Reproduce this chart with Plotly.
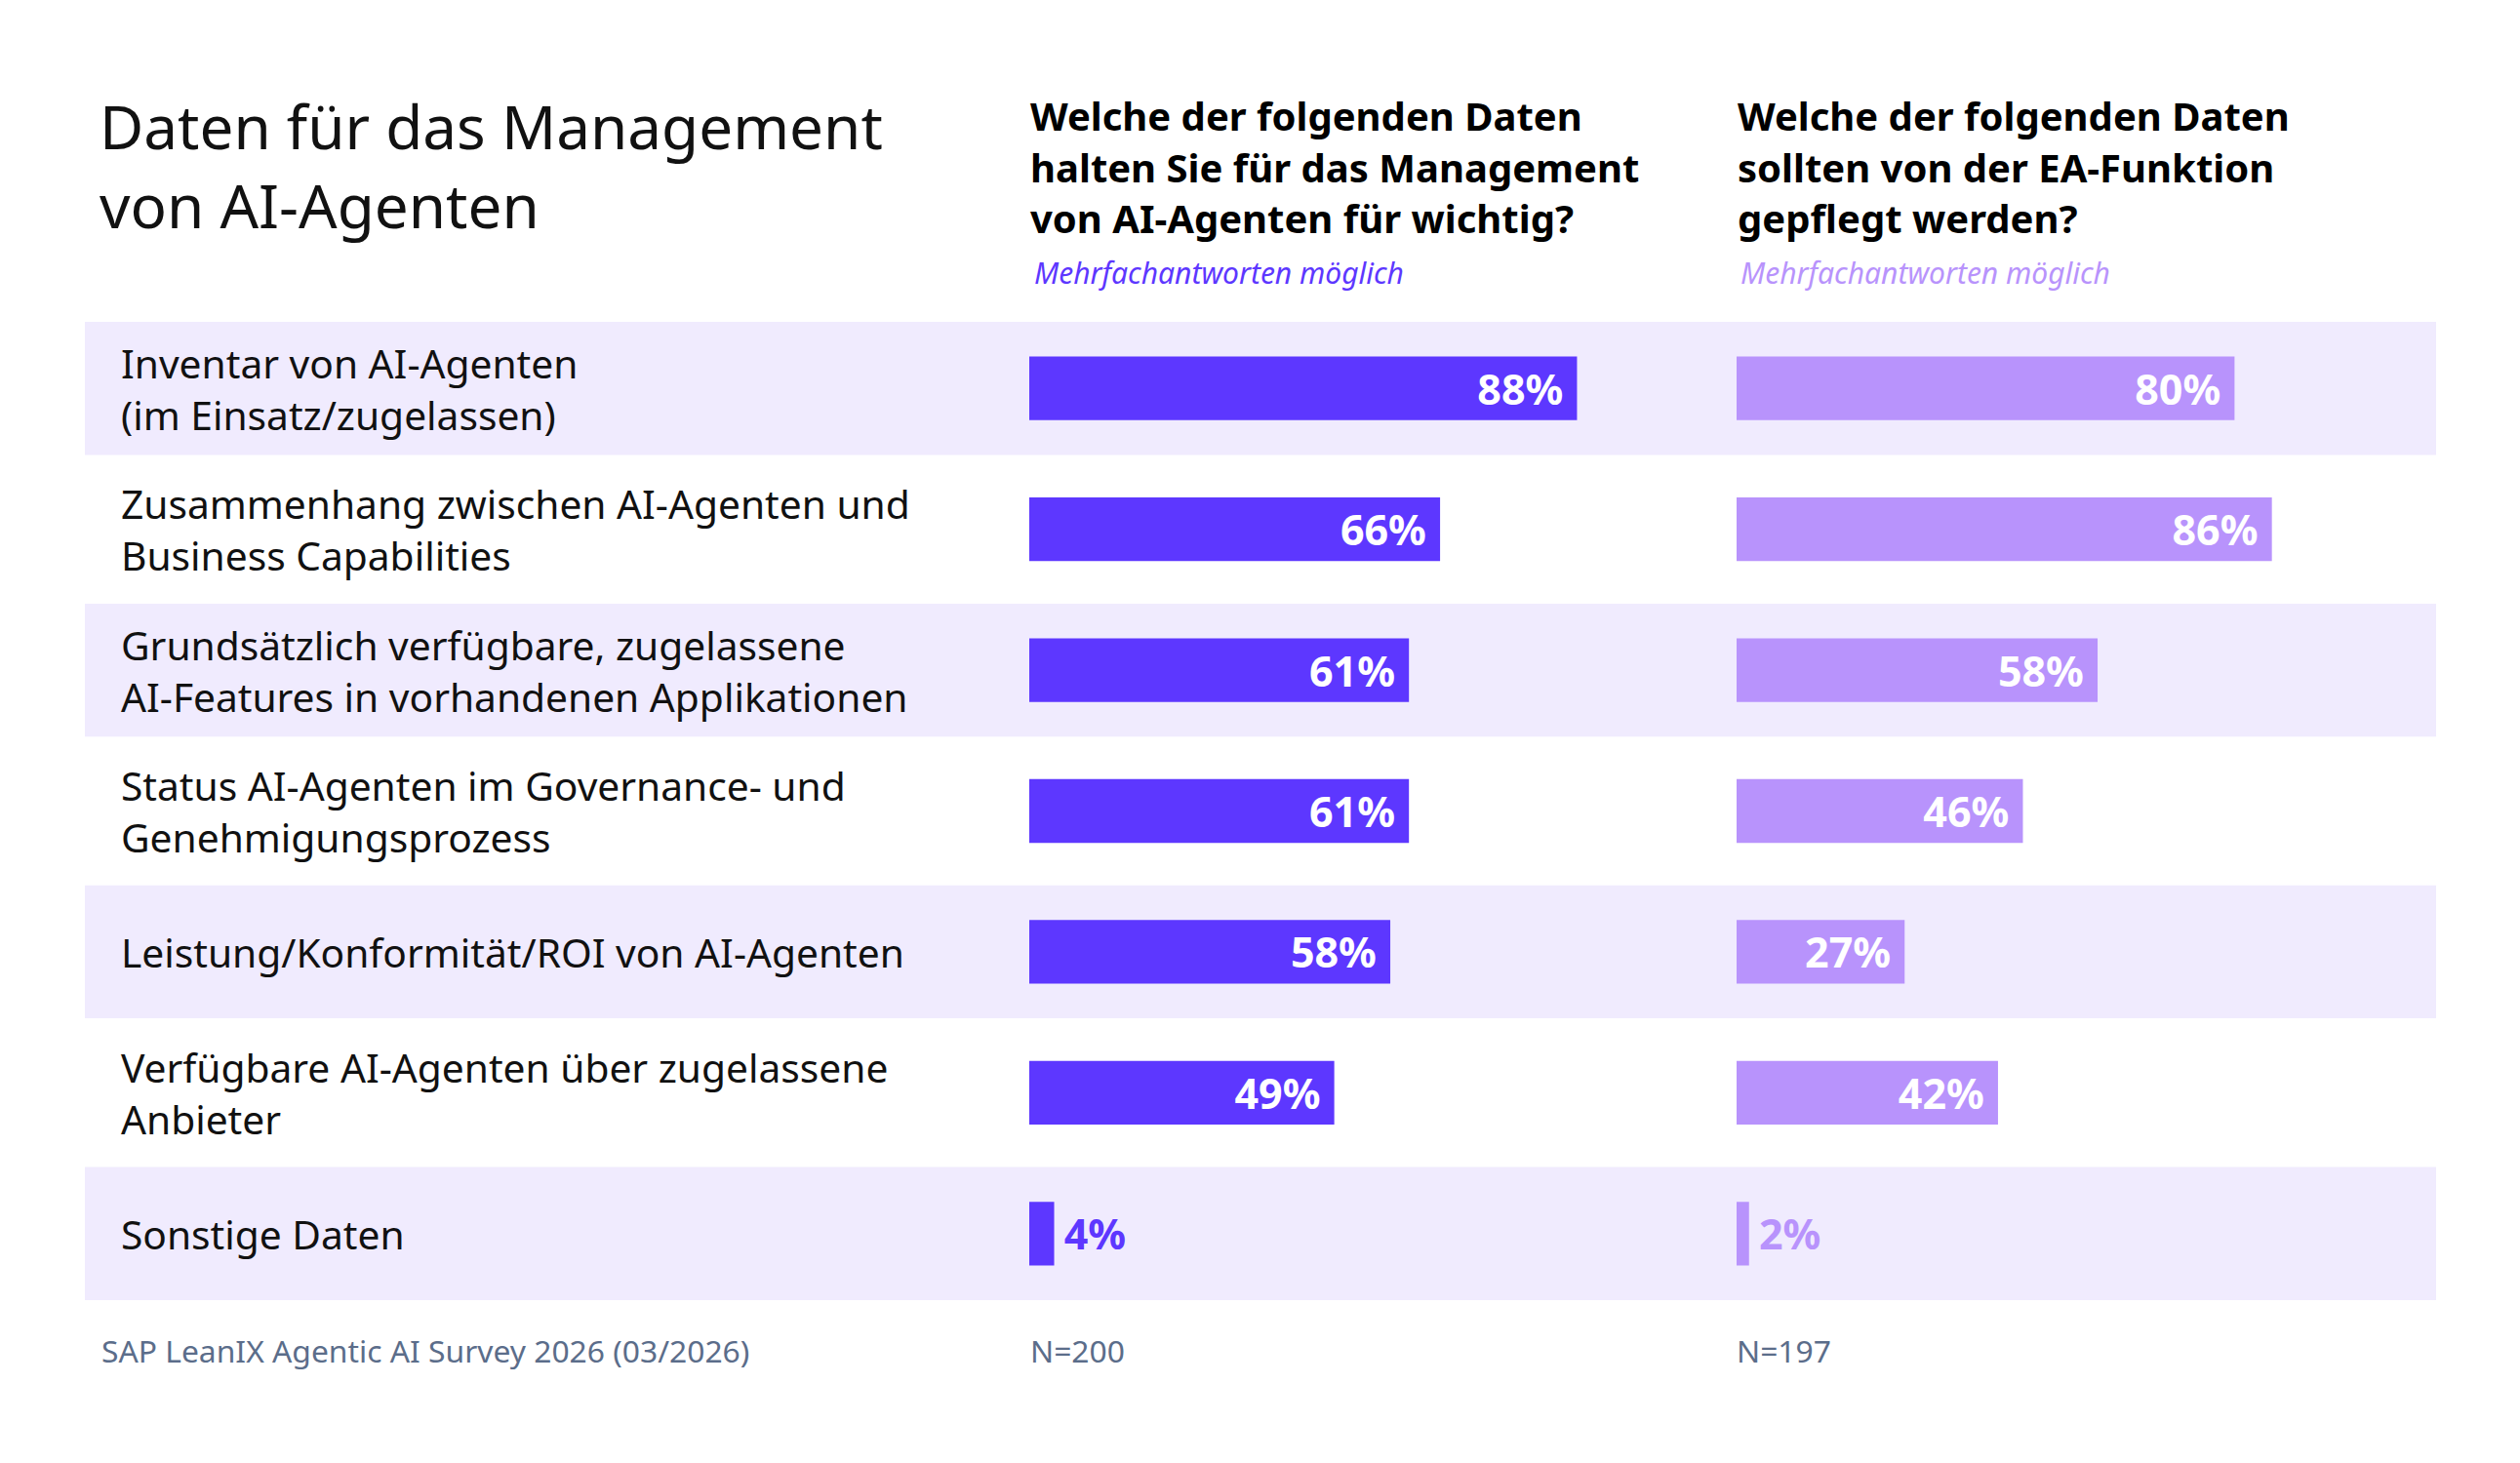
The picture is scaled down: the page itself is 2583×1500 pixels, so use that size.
import plotly.graph_objects as go

# page is 2583x1500, the html body keeps its default 8px margin
W, H = 2583, 1500
PAD = 8
FW, FH = W - 2 * PAD, H - 2 * PAD

# data
categories = [
    "Inventar von AI-Agenten<br>(im Einsatz/zugelassen)",
    "Zusammenhang zwischen AI-Agenten und<br>Business Capabilities",
    "Grundsätzlich verfügbare, zugelassene<br>AI-Features in vorhandenen Applikationen",
    "Status AI-Agenten im Governance- und<br>Genehmigungsprozess",
    "Leistung/Konformität/ROI von AI-Agenten",
    "Verfügbare AI-Agenten über zugelassene<br>Anbieter",
    "Sonstige Daten",
]
important = [88, 66, 61, 61, 58, 49, 4]
maintained_by_ea = [80, 86, 58, 46, 27, 42, 2]

title_text = "Daten für das Management<br>von AI-Agenten"
question_left = ["Welche der folgenden Daten", "halten Sie für das Management",
                 "von AI-Agenten für wichtig?"]
question_right = ["Welche der folgenden Daten", "sollten von der EA-Funktion",
                  "gepflegt werden?"]
note_text = "Mehrfachantworten möglich"
source_text = "SAP LeanIX Agentic AI Survey 2026 (03/2026)"
n_left = "N=200"
n_right = "N=197"

DARK = "#5d37ff"
LIGHT = "#b893fc"
BAND = "#f0ebfe"
SLATE = "#5b6d8a"
FONT = "Noto Sans"


def px_x(v):
    return (v - PAD) / FW


def px_y(v):
    return 1 - (v - PAD) / FH


fig = go.Figure()

for values, color, xa in [(important, DARK, "x"), (maintained_by_ea, LIGHT, "x2")]:
    fig.add_trace(go.Bar(
        y=categories, x=values, orientation="h",
        marker=dict(color=color, line_width=0),
        texttemplate="\u2009%{x}%\u00a0", textposition="auto",
        insidetextfont=dict(color="white", size=43, family=FONT, weight=700),
        outsidetextfont=dict(color=color, size=43, family=FONT, weight=700),
        insidetextanchor="end", cliponaxis=False,
        xaxis=xa, yaxis="y", hoverinfo="skip",
    ))

shapes = []
for i in range(0, len(categories), 2):
    shapes.append(dict(
        type="rect", xref="paper", yref="y",
        x0=px_x(87), x1=px_x(2497), y0=i - 0.472, y1=i + 0.472,
        fillcolor=BAND, line_width=0, layer="below",
    ))

annotations = []
for i, label in enumerate(categories):
    annotations.append(dict(
        text=label, xref="paper", yref="y", x=px_x(122), y=i,
        xanchor="left", yanchor="middle", align="left", showarrow=False,
        font=dict(size=40.7, color="#111111", family=FONT),
    ))

page_text = [
    dict(text=title_text, x=px_x(100), y=px_y(169),
         font=dict(size=62, color="#111111", family=FONT)),
    dict(text="<i>" + note_text + "</i>", x=px_x(1058), y=px_y(279),
         font=dict(size=30, color=DARK, family=FONT)),
    dict(text="<i>" + note_text + "</i>", x=px_x(1782), y=px_y(279),
         font=dict(size=30, color=LIGHT, family=FONT)),
    dict(text=source_text, x=px_x(102), y=px_y(1384),
         font=dict(size=31.8, color=SLATE, family=FONT)),
    dict(text=n_left, x=px_x(1054), y=px_y(1384),
         font=dict(size=31.8, color=SLATE, family=FONT)),
    dict(text=n_right, x=px_x(1778), y=px_y(1384),
         font=dict(size=31.8, color=SLATE, family=FONT)),
]
line_centres = [119, 171, 223]
for lines, x0 in [(question_left, 1054), (question_right, 1779)]:
    for line, yc in zip(lines, line_centres):
        page_text.append(dict(text="<b>" + line + "</b>", x=px_x(x0), y=px_y(yc),
                              font=dict(size=40, color="#000000", family=FONT)))
for a in page_text:
    a.update(xref="paper", yref="paper", showarrow=False, xanchor="left",
             yanchor="middle", align="left")
annotations += page_text

hidden = dict(showgrid=False, zeroline=False, showticklabels=False, showline=False, ticks="")

fig.update_layout(
    width=FW, height=FH,
    margin=dict(l=0, r=0, t=0, b=0),
    paper_bgcolor="white", plot_bgcolor="rgba(0,0,0,0)",
    showlegend=False, bargap=0.548,
    font=dict(family=FONT),
    xaxis=dict(domain=[px_x(1055), px_x(1693)], range=[0, 100], anchor="y", **hidden),
    xaxis2=dict(domain=[px_x(1780), px_x(2418)], range=[0, 100], anchor="y", **hidden),
    yaxis=dict(domain=[px_y(1337), px_y(326)], range=[6.5, -0.5], type="category",
               anchor="x", **hidden),
    shapes=shapes,
    annotations=annotations,
)

fig.write_html("out.html")
